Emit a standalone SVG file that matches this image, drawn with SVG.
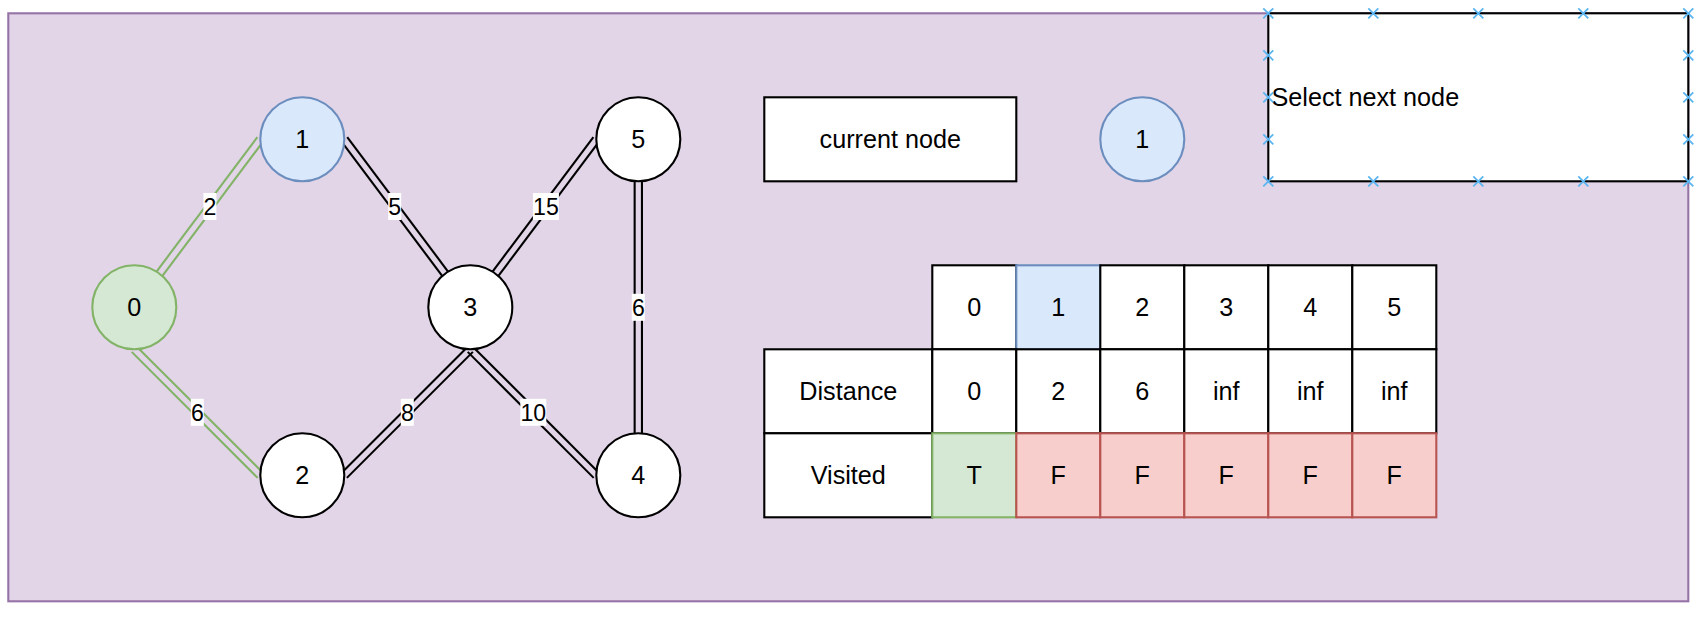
<svg xmlns="http://www.w3.org/2000/svg" xmlns:xlink="http://www.w3.org/1999/xlink" width="1704" height="622" viewBox="0 0 1704 622">
<style>
text{font-family:"Liberation Sans",Arial,Helvetica,sans-serif;fill:#000;text-anchor:middle;font-size:25.2px}
.lbl{font-size:23.1px}
.node{fill:#fff;stroke:#000;stroke-width:2.1}
.green{fill:#d5e8d4;stroke:#82b366;stroke-width:2.1}
.blue{fill:#dae8fc;stroke:#6c8ebf;stroke-width:2.1}
.red{fill:#f8cecc;stroke:#b85450;stroke-width:2.1}
.cell{fill:#fff;stroke:#000;stroke-width:2.1}
.edge line{stroke:#000;stroke-width:2.1;stroke-linecap:butt}
.edge.g line{stroke:#82b366}
.lb{fill:#fff;stroke:none}
.pt{stroke:#5bb5f0;stroke-width:1.8;fill:none}
</style>
<defs>
<path id="cx" d="M-5,-5L5,5M-5,5L5,-5"/>
</defs>
<rect id="container" x="8.3" y="13.3" width="1680" height="588" fill="#e1d5e7" stroke="#9673a6" stroke-width="2.1"/>

<g id="connectors">
<g id="e01" class="edge g"><line x1="162.42" y1="275.89" x2="263.22" y2="141.49"/><line x1="156.58" y1="271.51" x2="257.38" y2="137.11"/></g>
<g id="e02" class="edge g"><line x1="136.88" y1="346.72" x2="262.88" y2="472.72"/><line x1="131.72" y1="351.88" x2="257.72" y2="477.88"/></g>
<g id="e13" class="edge"><line x1="347.22" y1="137.11" x2="448.02" y2="271.51"/><line x1="341.38" y1="141.49" x2="442.18" y2="275.89"/></g>
<g id="e53" class="edge"><line x1="599.22" y1="141.49" x2="498.42" y2="275.89"/><line x1="593.38" y1="137.11" x2="492.58" y2="271.51"/></g>
<g id="e32" class="edge"><line x1="472.88" y1="351.88" x2="346.88" y2="477.88"/><line x1="467.72" y1="346.72" x2="341.72" y2="472.72"/></g>
<g id="e34" class="edge"><line x1="472.88" y1="346.72" x2="598.88" y2="472.72"/><line x1="467.72" y1="351.88" x2="593.72" y2="477.88"/></g>
<g id="e54" class="edge"><line x1="634.65" y1="181.3" x2="634.65" y2="433.3"/><line x1="641.95" y1="181.3" x2="641.95" y2="433.3"/></g>
<g id="edge-labels">
<rect class="lb" x="203.4" y="193" width="13" height="27"/><text class="lbl" x="209.9" y="214.8">2</text>
<rect class="lb" x="190.8" y="398.8" width="13" height="27"/><text class="lbl" x="197.3" y="420.6">6</text>
<rect class="lb" x="388.2" y="193" width="13" height="27"/><text class="lbl" x="394.7" y="214.8">5</text>
<rect class="lb" x="532.9" y="193" width="26" height="27"/><text class="lbl" x="545.9" y="214.8">15</text>
<rect class="lb" x="400.8" y="398.8" width="13" height="27"/><text class="lbl" x="407.3" y="420.6">8</text>
<rect class="lb" x="520.3" y="398.8" width="26" height="27"/><text class="lbl" x="533.3" y="420.6">10</text>
<rect class="lb" x="631.8" y="293.8" width="13" height="27"/><text class="lbl" x="638.3" y="315.6">6</text>
</g>
</g>

<g id="node0"><circle class="green" cx="134.3" cy="307.3" r="42"/><text x="134.3" y="316.3">0</text></g>
<g id="node1"><circle class="blue" cx="302.3" cy="139.3" r="42"/><text x="302.3" y="148.3">1</text></g>
<g id="node2"><circle class="node" cx="302.3" cy="475.3" r="42"/><text x="302.3" y="484.3">2</text></g>
<g id="node3"><circle class="node" cx="470.3" cy="307.3" r="42"/><text x="470.3" y="316.3">3</text></g>
<g id="node4"><circle class="node" cx="638.3" cy="475.3" r="42"/><text x="638.3" y="484.3">4</text></g>
<g id="node5"><circle class="node" cx="638.3" cy="139.3" r="42"/><text x="638.3" y="148.3">5</text></g>

<g id="current-node-label"><rect class="cell" x="764.3" y="97.3" width="252" height="84"/><text x="890.3" y="148.3">current node</text></g>
<g id="current-node"><circle class="blue" cx="1142.3" cy="139.3" r="42"/><text x="1142.3" y="148.3">1</text></g>

<g id="select-next-node">
<rect class="cell" x="1268.3" y="13.3" width="420" height="168"/>
<text x="1271.5" y="106.3" style="text-anchor:start">Select next node</text>
<g class="pt">
<use xlink:href="#cx" x="1268.3" y="13.3"/><use xlink:href="#cx" x="1373.3" y="13.3"/><use xlink:href="#cx" x="1478.3" y="13.3"/><use xlink:href="#cx" x="1583.3" y="13.3"/><use xlink:href="#cx" x="1688.3" y="13.3"/>
<use xlink:href="#cx" x="1268.3" y="181.3"/><use xlink:href="#cx" x="1373.3" y="181.3"/><use xlink:href="#cx" x="1478.3" y="181.3"/><use xlink:href="#cx" x="1583.3" y="181.3"/><use xlink:href="#cx" x="1688.3" y="181.3"/>
<use xlink:href="#cx" x="1268.3" y="55.3"/><use xlink:href="#cx" x="1268.3" y="97.3"/><use xlink:href="#cx" x="1268.3" y="139.3"/>
<use xlink:href="#cx" x="1688.3" y="55.3"/><use xlink:href="#cx" x="1688.3" y="97.3"/><use xlink:href="#cx" x="1688.3" y="139.3"/>
</g>
</g>

<g id="table">
<g id="header-row">
<rect class="cell" x="932.3" y="265.3" width="84" height="84"/>
<rect class="blue" x="1016.3" y="265.3" width="84" height="84"/>
<rect class="cell" x="1100.3" y="265.3" width="84" height="84"/>
<rect class="cell" x="1184.3" y="265.3" width="84" height="84"/>
<rect class="cell" x="1268.3" y="265.3" width="84" height="84"/>
<rect class="cell" x="1352.3" y="265.3" width="84" height="84"/>
<text x="974.3" y="316.3">0</text><text x="1058.3" y="316.3">1</text><text x="1142.3" y="316.3">2</text><text x="1226.3" y="316.3">3</text><text x="1310.3" y="316.3">4</text><text x="1394.3" y="316.3">5</text>
</g>
<g id="distance-row">
<rect class="cell" x="764.3" y="349.3" width="168" height="84"/>
<rect class="cell" x="932.3" y="349.3" width="84" height="84"/>
<rect class="cell" x="1016.3" y="349.3" width="84" height="84"/>
<rect class="cell" x="1100.3" y="349.3" width="84" height="84"/>
<rect class="cell" x="1184.3" y="349.3" width="84" height="84"/>
<rect class="cell" x="1268.3" y="349.3" width="84" height="84"/>
<rect class="cell" x="1352.3" y="349.3" width="84" height="84"/>
<text x="848.3" y="400.3">Distance</text><text x="974.3" y="400.3">0</text><text x="1058.3" y="400.3">2</text><text x="1142.3" y="400.3">6</text><text x="1226.3" y="400.3">inf</text><text x="1310.3" y="400.3">inf</text><text x="1394.3" y="400.3">inf</text>
</g>
<g id="visited-row">
<rect class="cell" x="764.3" y="433.3" width="168" height="84"/>
<rect class="green" x="932.3" y="433.3" width="84" height="84"/>
<rect class="red" x="1016.3" y="433.3" width="84" height="84"/>
<rect class="red" x="1100.3" y="433.3" width="84" height="84"/>
<rect class="red" x="1184.3" y="433.3" width="84" height="84"/>
<rect class="red" x="1268.3" y="433.3" width="84" height="84"/>
<rect class="red" x="1352.3" y="433.3" width="84" height="84"/>
<text x="848.3" y="484.3">Visited</text><text x="974.3" y="484.3">T</text><text x="1058.3" y="484.3">F</text><text x="1142.3" y="484.3">F</text><text x="1226.3" y="484.3">F</text><text x="1310.3" y="484.3">F</text><text x="1394.3" y="484.3">F</text>
</g>
</g>
</svg>
